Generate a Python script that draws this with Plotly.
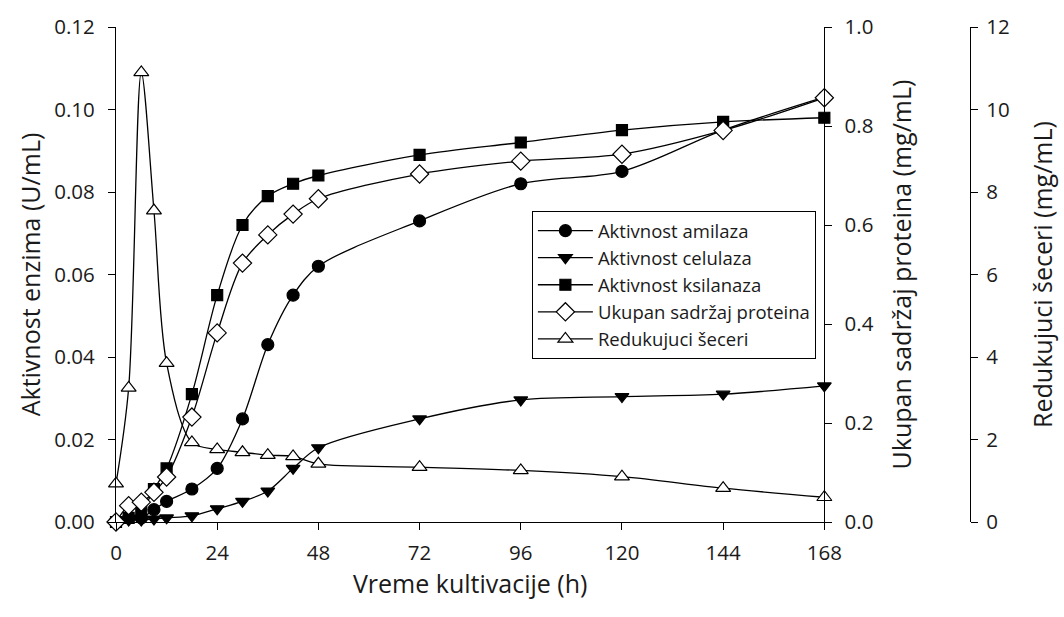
import plotly.graph_objects as go

# Cultivation time (h)
time_h = [0, 3, 6, 9, 12, 18, 24, 30, 36, 42, 48, 72, 96, 120, 144, 168]

# Enzyme activities (U/mL)
amilaza = [0, 0.001, 0.001, 0.003, 0.005, 0.008, 0.013, 0.025, 0.043, 0.055,
           0.062, 0.073, 0.082, 0.085, 0.095, 0.103]
celulaza = [0, 0.0005, 0.0005, 0.0007, 0.001, 0.0015, 0.0032, 0.005, 0.0075,
            0.013, 0.018, 0.025, 0.0296, 0.0304, 0.031, 0.033]
ksilanaza = [0, 0.001, 0.0025, 0.008, 0.013, 0.031, 0.055, 0.072, 0.079,
             0.082, 0.084, 0.089, 0.092, 0.095, 0.097, 0.098]

# Total protein (mg/mL)
proteini = [0, 0.033, 0.040, 0.060, 0.091, 0.212, 0.382, 0.523, 0.580, 0.622,
            0.653, 0.703, 0.729, 0.743, 0.791, 0.857]

# Reducing sugars (mg/mL)
seceri = [0.93, 3.25, 10.9, 7.55, 3.85, 1.93, 1.76, 1.69, 1.62, 1.59, 1.41,
          1.33, 1.25, 1.10, 0.82, 0.60]

x_ticks = [0, 24, 48, 72, 96, 120, 144, 168]

FONT = "Open Sans"
INK = "#1a1a1a"
TICK_SIZE = 20.5
TITLE_SIZE = 25

line_style = dict(color="black", width=1.3, shape="spline", smoothing=0.9)


def series(name, y, symbol, fill, yaxis, size=12):
    return go.Scatter(
        x=time_h, y=y, name=name, mode="lines+markers", yaxis=yaxis,
        line=line_style, cliponaxis=False,
        marker=dict(symbol=symbol, size=size, color=fill,
                    line=dict(color="black", width=1.2)),
    )


fig = go.Figure()
fig.add_trace(series("Aktivnost amilaza", amilaza, "circle", "black", "y", 12))
fig.add_trace(series("Aktivnost celulaza", celulaza, "triangle-down", "black", "y", 12))
fig.add_trace(series("Aktivnost ksilanaza", ksilanaza, "square", "black", "y", 11))
fig.add_trace(series("Ukupan sadržaj proteina", proteini, "diamond", "white", "y2", 14))
fig.add_trace(series("Redukujuci šeceri", seceri, "triangle-up", "white", "y3", 13))

axis_common = dict(
    showline=True, linecolor="black", linewidth=1.2,
    ticks="outside", ticklen=7, tickwidth=1.2, tickcolor="black",
    showgrid=False, zeroline=False,
    tickfont=dict(family=FONT, size=TICK_SIZE, color=INK),
)


def title(text, standoff):
    return dict(text=text, standoff=standoff,
                font=dict(family=FONT, size=TITLE_SIZE, color=INK))


fig.update_layout(
    width=1064, height=617,
    margin=dict(l=116, r=92, t=24, b=95),
    paper_bgcolor="white", plot_bgcolor="white",
    font=dict(family=FONT, color=INK),
    showlegend=True,
    legend=dict(
        x=0.487, y=0.628, xanchor="left", yanchor="top",
        bordercolor="black", borderwidth=1, bgcolor="white",
        font=dict(family=FONT, size=18.5, color=INK),
        tracegroupgap=0, itemwidth=55,
    ),
    xaxis=dict(
        domain=[0, 710 / 856], range=[0, 168],
        tickvals=x_ticks, ticktext=[str(v) for v in x_ticks],
        ticklabelstandoff=5,
        title=title("Vreme kultivacije (h)", 8),
        **axis_common,
    ),
    yaxis=dict(
        range=[0, 0.12], tickvals=[0, 0.02, 0.04, 0.06, 0.08, 0.10, 0.12],
        tickformat=".2f", ticklabelstandoff=9,
        title=title("Aktivnost enzima (U/mL)", 6),
        **axis_common,
    ),
    yaxis2=dict(
        range=[0, 1.0], tickvals=[0, 0.2, 0.4, 0.6, 0.8, 1.0], tickformat=".1f",
        overlaying="y", side="right", anchor="x", ticklabelstandoff=8,
        title=title("Ukupan sadržaj proteina (mg/mL)", 20),
        **axis_common,
    ),
    yaxis3=dict(
        range=[0, 12], tickvals=[0, 2, 4, 6, 8, 10, 12],
        overlaying="y", side="right", anchor="free", position=1.0,
        ticklabelstandoff=4,
        title=title("Redukujuci šeceri (mg/mL)", 25),
        **axis_common,
    ),
)

fig.write_html("out.html")
